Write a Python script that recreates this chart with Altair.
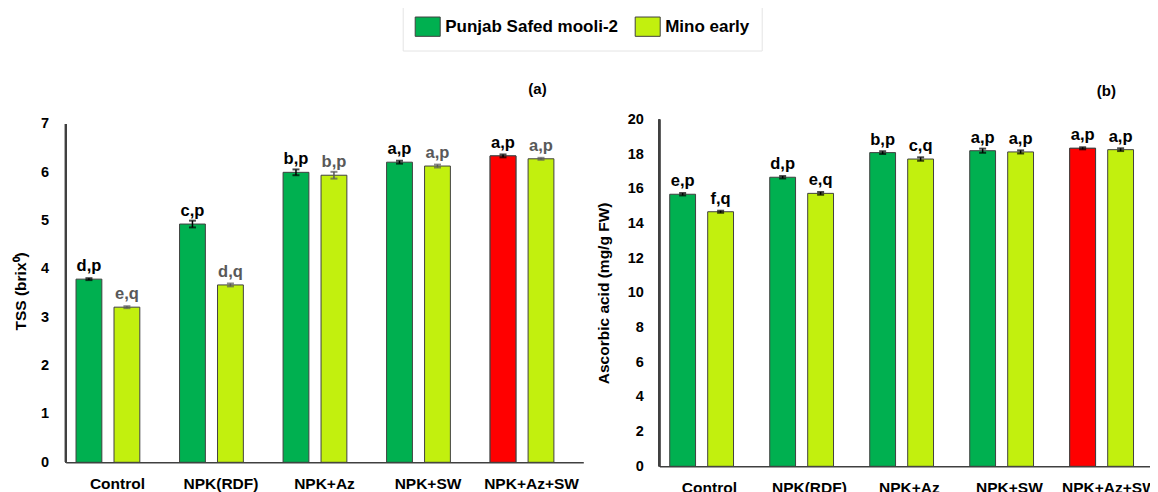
import altair as alt
import pandas as pd

FONT = "Liberation Sans"
GREEN = "#00B050"
LIME = "#C2F00E"
RED = "#FF0000"
AXIS = "#404040"

treatments = ["Control", "NPK(RDF)", "NPK+Az", "NPK+SW", "NPK+Az+SW"]
varieties = ["Punjab Safed mooli-2", "Mino early"]

# (a) TSS (brix)
tss_psm = [3.79, 4.93, 6.00, 6.21, 6.34]
tss_psm_err = [0.02, 0.07, 0.06, 0.03, 0.03]
tss_psm_lbl = ["d,p", "c,p", "b,p", "a,p", "a,p"]
tss_me = [3.21, 3.67, 5.94, 6.13, 6.28]
tss_me_err = [0.02, 0.03, 0.07, 0.03, 0.02]
tss_me_lbl = ["e,q", "d,q", "b,p", "a,p", "a,p"]
tss_ticks = [0, 1, 2, 3, 4, 5, 6, 7]

# (b) Ascorbic acid (mg/g FW)
aa_psm = [15.69, 16.67, 18.09, 18.20, 18.34]
aa_psm_err = [0.07, 0.07, 0.08, 0.12, 0.06]
aa_psm_lbl = ["e,p", "d,p", "b,p", "a,p", "a,p"]
aa_me = [14.68, 15.74, 17.72, 18.13, 18.26]
aa_me_err = [0.06, 0.08, 0.10, 0.09, 0.08]
aa_me_lbl = ["f,q", "e,q", "c,q", "a,p", "a,p"]
aa_ticks = [0, 2, 4, 6, 8, 10, 12, 14, 16, 18, 20]


def make_df(psm, psm_err, psm_lbl, me, me_err, me_lbl):
    rows = []
    series = [(varieties[0], psm, psm_err, psm_lbl), (varieties[1], me, me_err, me_lbl)]
    for i, t in enumerate(treatments):
        for v, vals, errs, lbls in series:
            rows.append(dict(treatment=t, variety=v, value=vals[i],
                             lo=vals[i] - errs[i], hi=vals[i] + errs[i],
                             label=lbls[i],
                             red=bool(t == treatments[-1] and v == varieties[0])))
    return pd.DataFrame(rows)


def panel(df, width, height, ymax, ticks, ytitle, title, title_dx, title_off,
          label_pad, extent, title_pad, lime_text):
    xaxis = alt.Axis(title=None, labelAngle=0, labelFont=FONT,
                     labelFontSize=15.5, labelFontWeight="bold",
                     labelColor="black", labelPadding=14.5,
                     labelOverlap=False,
                     ticks=False, domainColor=AXIS, domainWidth=1.5,
                     grid=False)
    x = alt.X("treatment:N", sort=treatments,
              scale=alt.Scale(paddingInner=0, paddingOuter=0), axis=xaxis)
    xo = alt.XOffset("variety:N", sort=varieties,
                     scale=alt.Scale(domain=varieties, paddingInner=0.32,
                                     paddingOuter=0.523, align=0.26))
    yaxis = alt.Axis(values=ticks, title=ytitle, domain=False, grid=False,
                     ticks=False, labelPadding=label_pad,
                     labelOverlap=False,
                     minExtent=extent, maxExtent=extent,
                     titlePadding=title_pad, labelFont=FONT,
                     labelFontSize=14.5, labelFontWeight="bold",
                     labelColor="black", titleFont=FONT,
                     titleFontSize=15.5, titleFontWeight="bold",
                     titleColor="black")
    yscale = alt.Scale(domain=[0, ymax], nice=False, zero=True)

    def Y(field):
        return alt.Y(field, scale=yscale, axis=yaxis, title=ytitle)

    base = alt.Chart(df)
    bars = base.mark_bar(stroke=AXIS, strokeWidth=1).encode(
        x=x, xOffset=xo, y=Y("value:Q"),
        color=alt.Color("variety:N", sort=varieties,
                        scale=alt.Scale(domain=varieties, range=[GREEN, LIME]),
                        legend=alt.Legend(orient="none", legendX=337, legendY=-118,
                                          direction="horizontal", title=None)))
    red = base.transform_filter("datum.red").mark_bar(
        stroke=AXIS, strokeWidth=1, fill=RED).encode(
        x=x, xOffset=xo, y=Y("value:Q"))
    err_col = alt.condition(alt.datum.variety == varieties[1],
                            alt.value("#595959" if lime_text else "black"),
                            alt.value("black"))
    err = base.mark_rule(strokeWidth=1.5).encode(
        x=x, xOffset=xo, y=Y("lo:Q"), y2="hi:Q", color=err_col)
    cap_lo = base.mark_tick(thickness=2, size=7).encode(
        x=x, xOffset=xo, y=Y("lo:Q"), color=err_col)
    cap_hi = base.mark_tick(thickness=2, size=7).encode(
        x=x, xOffset=xo, y=Y("hi:Q"), color=err_col)
    txt = base.mark_text(font=FONT, fontSize=16.5, fontWeight="bold",
                         baseline="alphabetic", dy=-8).encode(
        x=x, xOffset=xo, y=Y("value:Q"), text="label:N", color=err_col)
    yline = base.mark_rule(color=AXIS, strokeWidth=1.5).encode(
        x=alt.value(0),
        y=alt.YDatum(0, scale=yscale, axis=yaxis, title=ytitle),
        y2=alt.datum(ticks[-1]))
    return alt.layer(bars, red, err, cap_lo, cap_hi, txt, yline).properties(
        width=width, height=height,
        title=alt.TitleParams(title, anchor="end", dx=title_dx, font=FONT,
                              fontSize=15, fontWeight="bold", color="black",
                              offset=title_off))


df_a = make_df(tss_psm, tss_psm_err, tss_psm_lbl, tss_me, tss_me_err, tss_me_lbl)
df_b = make_df(aa_psm, aa_psm_err, aa_psm_lbl, aa_me, aa_me_err, aa_me_lbl)

pa = panel(df_a, 517.6, 342.8, 7.093, tss_ticks, "TSS (brix⁰)", "(a)", -36.6, 19.3,
           17, 26, 11.5, True)
pb = panel(df_b, 500, 346.8, 20, aa_ticks, "Ascorbic acid (mg/g FW)", "(b)", -43.4, 12.7,
           16, 33, 14.5, False)

chart = alt.hconcat(pa, pb, spacing=12.7).properties(
    autosize=alt.AutoSizeParams(type="none"),
    padding={"left": 57.7, "top": 111.5, "right": 1084.3, "bottom": 372.5},
    background="white",
).configure_view(stroke=None).configure_axis(labelOverlap=False).configure_legend(
    symbolType="M-1,-0.772L1,-0.772L1,0.772L-1,0.772Z",
    symbolSize=625,
    symbolStrokeColor=AXIS,
    symbolStrokeWidth=1,
    symbolOpacity=1,
    labelFont=FONT,
    labelFontSize=17,
    labelFontWeight="bold",
    labelColor="black",
    labelLimit=400,
    labelOffset=4.5,
    columnPadding=14,
    fillColor="white",
    strokeColor="#E4E4E4",
    padding=12,
)

chart.save("out.html", embed_options={"renderer": "svg", "actions": False})
